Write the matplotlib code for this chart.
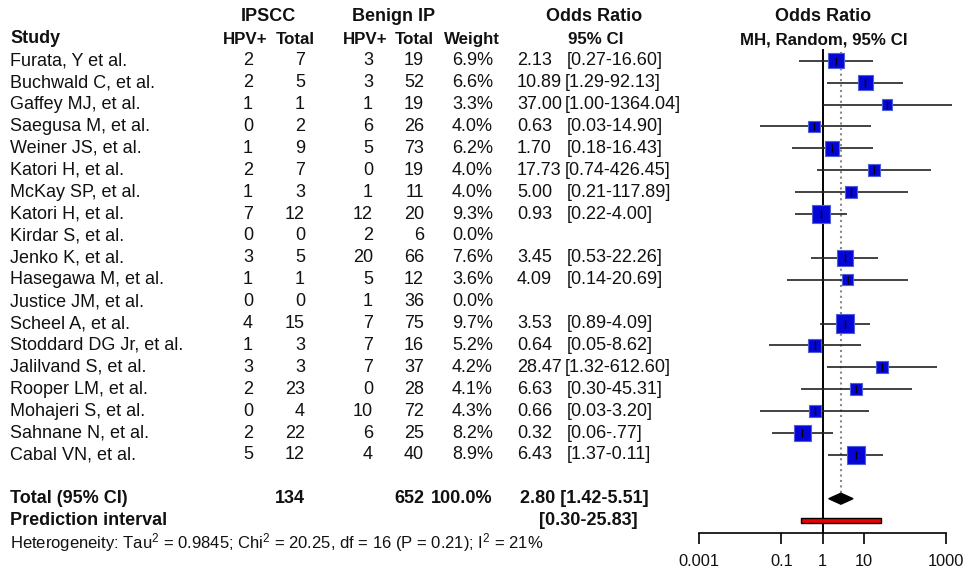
import numpy as np
import matplotlib
matplotlib.use("Agg")
import matplotlib.pyplot as plt

plt.rcParams['font.family'] = ['Liberation Sans', 'DejaVu Sans']
plt.rcParams['mathtext.fontset'] = 'custom'
plt.rcParams['mathtext.rm'] = 'Liberation Sans'
plt.rcParams['mathtext.it'] = 'Liberation Sans'
plt.rcParams['mathtext.bf'] = 'Liberation Sans:bold'

# ---- study-level data -------------------------------------------------------
studies = ["Furata, Y et al.", "Buchwald C, et al.", "Gaffey MJ, et al.",
           "Saegusa M, et al.", "Weiner JS, et al.", "Katori H, et al.",
           "McKay SP, et al.", "Katori H, et al.", "Kirdar S, et al.",
           "Jenko K, et al.", "Hasegawa M, et al.", "Justice JM, et al.",
           "Scheel A, et al.", "Stoddard DG Jr, et al.", "Jalilvand S, et al.",
           "Rooper LM, et al.", "Mohajeri S, et al.", "Sahnane N, et al.",
           "Cabal VN, et al."]
ipscc_hpv = [2, 2, 1, 0, 1, 2, 1, 7, 0, 3, 1, 0, 4, 1, 3, 2, 0, 2, 5]
ipscc_total = [7, 5, 1, 2, 9, 7, 3, 12, 0, 5, 1, 0, 15, 3, 3, 23, 4, 22, 12]
benign_hpv = [3, 3, 1, 6, 5, 0, 1, 12, 2, 20, 5, 1, 7, 7, 7, 0, 10, 6, 4]
benign_total = [19, 52, 19, 26, 73, 19, 11, 20, 6, 66, 12, 36, 75, 16, 37, 28, 72, 25, 40]
weight = [6.9, 6.6, 3.3, 4.0, 6.2, 4.0, 4.0, 9.3, 0.0, 7.6, 3.6, 0.0, 9.7, 5.2,
          4.2, 4.1, 4.3, 8.2, 8.9]
odds_ratio = [2.13, 10.89, 37.00, 0.63, 1.70, 17.73, 5.00, 0.93, np.nan, 3.45,
              4.09, np.nan, 3.53, 0.64, 28.47, 6.63, 0.66, 0.32, 6.43]
ci_low = [0.27, 1.29, 1.00, 0.03, 0.18, 0.74, 0.21, 0.22, np.nan, 0.53, 0.14,
          np.nan, 0.89, 0.05, 1.32, 0.30, 0.03, 0.06, 1.37]
ci_high = [16.60, 92.13, 1364.04, 14.90, 16.43, 426.45, 117.89, 4.00, np.nan,
           22.26, 120.69, np.nan, 14.09, 8.62, 612.60, 145.31, 13.20, 1.77, 30.11]
ci_text = ["[0.27-16.60]", "[1.29-92.13]", "[1.00-1364.04]", "[0.03-14.90]",
           "[0.18-16.43]", "[0.74-426.45]", "[0.21-117.89]", "[0.22-4.00]", "",
           "[0.53-22.26]", "[0.14-20.69]", "", "[0.89-4.09]", "[0.05-8.62]",
           "[1.32-612.60]", "[0.30-45.31]", "[0.03-3.20]", "[0.06-.77]",
           "[1.37-0.11]"]

# ---- pooled estimates -------------------------------------------------------
total_ipscc = 134
total_benign = 652
pooled_or = 2.80
pooled_low = 1.42
pooled_high = 5.51
pi_low = 0.30
pi_high = 25.83
heterogeneity = ("Heterogeneity: Tau$^{2}$ = 0.9845; Chi$^{2}$ = 20.25, "
                 "df = 16 (P = 0.21); I$^{2}$ = 21%")

axis_ticks = [0.001, 0.1, 1, 10, 1000]
axis_labels = ["0.001", "0.1", "1", "10", "1000"]

# ---- layout -----------------------------------------------------------------
W, H = 968, 576
ROW0, STEP = 60.7, 21.9          # pixel position of first row and row pitch
y_top = -ROW0 / STEP
y_bot = (H - ROW0) / STEP
axis_px = 533
FS = 13

fig = plt.figure(figsize=(W / 100, H / 100), dpi=100)
fig.patch.set_facecolor("white")

tab = fig.add_axes([0, 0, 1, 1])
tab.set_xlim(0, W)
tab.set_ylim(y_bot, y_top)
tab.axis("off")

n = len(studies)
rows = np.arange(n)
row_total = n + 1
row_pi = n + 2
row_het = n + 3

# headers
hdr = dict(fontweight="bold", fontsize=FS, va="center", color="#111111")
tab.text(268, -2, "IPSCC", ha="center", **hdr)
tab.text(394, -2, "Benign IP", ha="center", **hdr)
tab.text(594, -2, "Odds Ratio", ha="center", **hdr)
tab.text(823, -2, "Odds Ratio", ha="center", **hdr)
tab.text(10, -1, "Study", ha="left", **hdr)
sub = dict(fontweight="bold", fontsize=FS - 0.8, va="center", color="#111111")
tab.text(245, -0.95, "HPV+", ha="center", **sub)
tab.text(315, -0.95, "Total", ha="right", **sub)
tab.text(365, -0.95, "HPV+", ha="center", **sub)
tab.text(434, -0.95, "Total", ha="right", **sub)
tab.text(500, -0.95, "Weight", ha="right", **sub)
tab.text(596, -0.95, "95% CI", ha="center", **sub)
tab.text(824, -0.95, "MH, Random, 95% CI", ha="center", **sub)

cell = dict(fontsize=FS, va="center", color="#111111")
for i in rows:
    tab.text(10, i, studies[i], ha="left", **cell)
    tab.text(253, i, str(ipscc_hpv[i]), ha="right", **cell)
    tab.text(305, i, str(ipscc_total[i]), ha="right", **cell)
    tab.text(373, i, str(benign_hpv[i]), ha="right", **cell)
    tab.text(424, i, str(benign_total[i]), ha="right", **cell)
    tab.text(493, i, f"{weight[i]:.1f}%", ha="right", **cell)
    if not np.isnan(odds_ratio[i]):
        o = f"{odds_ratio[i]:.2f}"
        tab.text(517, i, o, ha="left", **cell)
        tab.text(567 if len(o) < 5 else 565, i, ci_text[i], ha="left", **cell)

bold = dict(fontsize=FS, va="center", fontweight="bold", color="#111111")
tab.text(10, row_total, "Total (95% CI)", ha="left", **bold)
tab.text(305, row_total, str(total_ipscc), ha="right", **bold)
tab.text(424, row_total, str(total_benign), ha="right", **bold)
tab.text(493, row_total, "100.0%", ha="right", **bold)
tab.text(520, row_total, f"{pooled_or:.2f} [{pooled_low:.2f}-{pooled_high:.2f}]",
         ha="left", **bold)
tab.text(10, row_pi, "Prediction interval", ha="left", **bold)
tab.text(539, row_pi, f"[{pi_low:.2f}-{pi_high:.2f}]", ha="left", **bold)
tab.text(10, row_het, heterogeneity, ha="left", fontsize=12, va="center",
         color="#111111")

# ---- forest panel -----------------------------------------------------------
x0, x1 = 699, 946
ax = fig.add_axes([x0 / W, (H - axis_px) / H, (x1 - x0) / W, axis_px / H])
ax.set_xscale("log")
ax.set_xlim(axis_ticks[0], axis_ticks[-1])
ax.set_ylim((axis_px - ROW0) / STEP, y_top)
ax.patch.set_alpha(0)
for s in ("top", "right", "left"):
    ax.spines[s].set_visible(False)
ax.spines["bottom"].set_linewidth(1.2)
ax.set_yticks([])
ax.set_xticks(axis_ticks)
ax.set_xticklabels(axis_labels)
ax.xaxis.set_minor_locator(matplotlib.ticker.NullLocator())
ax.tick_params(axis="x", length=8, width=1.2, pad=7, labelsize=11.8,
               labelcolor="#111111")

# reference lines
ax.plot([1, 1], [-0.5, (axis_px - ROW0) / STEP], color="black", lw=1.4,
        clip_on=False, zorder=1)
ax.plot([pooled_or, pooled_or], [-0.4, row_total - 0.25], color="#888888",
        lw=1.5, ls=(0, (1, 1.6)), zorder=1)

# study CIs and weighted squares
valid = ~np.isnan(np.array(odds_ratio))
orv = np.array(odds_ratio)[valid]
lov = np.array(ci_low)[valid]
hiv = np.array(ci_high)[valid]
rv = rows[valid]
wv = np.array(weight)[valid]
ax.hlines(rv, lov, hiv, color="#222222", lw=1.2, zorder=2, clip_on=False)
side_pt = 5.9 * np.sqrt(wv) * 0.72
ax.scatter(orv, rv, s=side_pt ** 2, marker="s", color="#0505d8",
           edgecolor="#5060d8", linewidth=0.8, zorder=3, clip_on=False)
ax.scatter(orv, rv, s=36, marker="|", color="black", linewidth=1.0, zorder=4,
           clip_on=False)

# pooled diamond
ax.fill([pooled_low, pooled_or, pooled_high, pooled_or],
        [row_total, row_total - 0.25, row_total, row_total + 0.25],
        color="black", zorder=3, clip_on=False)

# prediction interval bar
ax.barh(row_pi, pi_high - pi_low, left=pi_low, height=0.2, color="#ee0000",
        edgecolor="black", linewidth=1.0, zorder=3, clip_on=False)

fig.savefig("out.png", dpi=100)
